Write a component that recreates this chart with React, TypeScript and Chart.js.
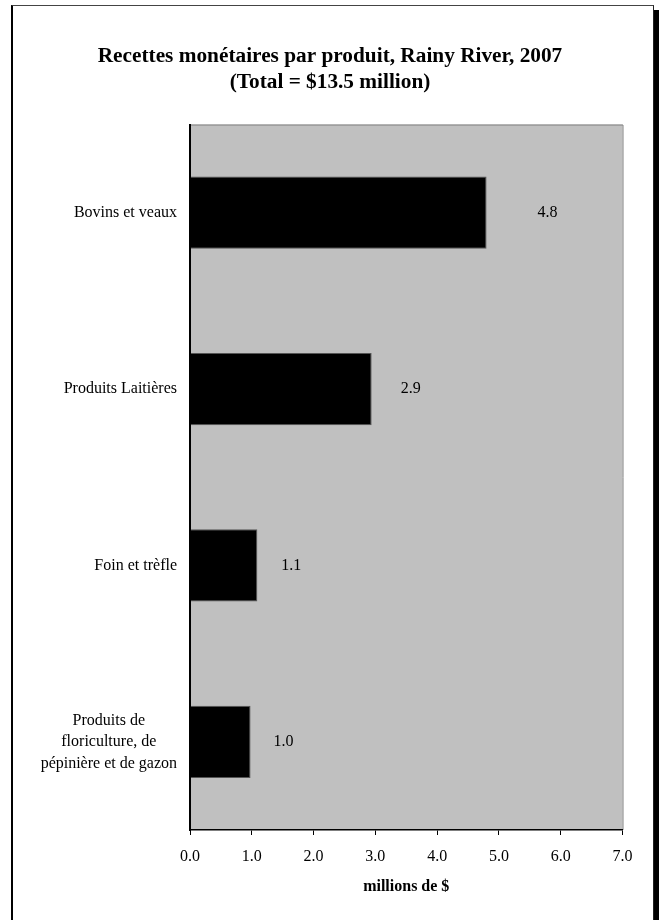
import React, { useEffect, useRef } from "react";
import { Chart, registerables } from "chart.js";

Chart.register(...registerables);

// ---- data ----
const categories: (string | string[])[] = [
  "Bovins et veaux",
  "Produits Laitières",
  "Foin et trèfle",
  ["Produits de", "floriculture, de", "pépinière et de gazon"],
];
const values: number[] = [4.8, 2.94, 1.09, 0.98];
const xTickValues: number[] = [0, 1, 2, 3, 4, 5, 6, 7];
const titleLines: string[] = [
  "Recettes monétaires par produit, Rainy River, 2007",
  "(Total = $13.5 million)",
];
const xAxisTitle = "millions de $";

// ---- styling ----
const FONT = "'Liberation Serif', 'Times New Roman', Times, serif";
const labelOffsets: number[] = [61, 39, 34, 33];

const plotBackground = {
  id: "plotBackground",
  beforeDraw(chart: any) {
    const { ctx, chartArea } = chart;
    if (!chartArea) return;
    const { left, top, right, bottom } = chartArea;
    ctx.save();
    ctx.fillStyle = "#C0C0C0";
    ctx.fillRect(left, top, right - left, bottom - top);
    ctx.strokeStyle = "#808080";
    ctx.lineWidth = 1;
    ctx.beginPath();
    ctx.moveTo(left, top + 0.5);
    ctx.lineTo(right + 0.5, top + 0.5);
    ctx.lineTo(right + 0.5, bottom);
    ctx.stroke();
    ctx.restore();
  },
};

const valueLabels = {
  id: "valueLabels",
  afterDatasetsDraw(chart: any) {
    const { ctx } = chart;
    const meta = chart.getDatasetMeta(0);
    ctx.save();
    ctx.font = `16px ${FONT}`;
    ctx.fillStyle = "#000";
    ctx.textAlign = "center";
    ctx.textBaseline = "middle";
    meta.data.forEach((el: any, i: number) => {
      const v = values[i];
      ctx.fillText(v.toFixed(1), el.x + labelOffsets[i], el.y);
    });
    ctx.restore();
  },
};

const categoryLabels = {
  id: "categoryLabels",
  afterDraw(chart: any) {
    const { ctx, chartArea } = chart;
    const yScale = chart.scales.y;
    const lineHeight = 21.5;
    ctx.save();
    ctx.font = `16px ${FONT}`;
    ctx.fillStyle = "#000";
    ctx.textAlign = "center";
    ctx.textBaseline = "middle";
    categories.forEach((cat, i) => {
      const lines = Array.isArray(cat) ? cat : [cat];
      const maxW = Math.max(...lines.map((l) => ctx.measureText(l).width));
      const rightX = chartArea.left - 13;
      const cx = rightX - maxW / 2;
      const cy = yScale.getPixelForValue(i);
      lines.forEach((line, j) => {
        ctx.fillText(line, cx, cy + (j - (lines.length - 1) / 2) * lineHeight);
      });
    });
    ctx.restore();
  },
};

function BarChart() {
  const canvasRef = useRef<HTMLCanvasElement | null>(null);

  useEffect(() => {
    if (!canvasRef.current) return;
    const chart = new Chart(canvasRef.current, {
      type: "bar",
      data: {
        labels: categories as any,
        datasets: [
          {
            data: values,
            backgroundColor: "#000000",
            borderColor: "#555555",
            borderWidth: 1,
            barPercentage: 0.41,
            categoryPercentage: 1,
          },
        ],
      },
      options: {
        indexAxis: "y",
        animation: false,
        responsive: true,
        maintainAspectRatio: false,
        layout: { padding: { left: 37.5, right: 36.5, top: 0, bottom: 0 } },
        plugins: {
          legend: { display: false },
          tooltip: { enabled: false },
          title: {
            display: true,
            text: titleLines,
            color: "#000",
            font: { family: FONT, size: 21.3, weight: "bold", lineHeight: 1.2 },
            padding: { top: 43.7, bottom: 29.7 },
          },
        },
        scales: {
          x: {
            type: "linear",
            position: "bottom",
            min: 0,
            max: 7,
            afterBuildTicks: (scale: any) => {
              scale.ticks = xTickValues.map((v) => ({ value: v }));
            },
            ticks: {
              color: "#000",
              font: { family: FONT, size: 16 },
              padding: 12,
              callback: (v: any) => Number(v).toFixed(1),
              maxRotation: 0,
            },
            grid: {
              display: true,
              drawOnChartArea: false,
              drawTicks: true,
              tickLength: 5,
              color: "#000",
              lineWidth: 1,
            },
            border: { display: true, color: "#000", width: 1.5, z: 1 },
            title: {
              display: true,
              text: xAxisTitle,
              color: "#000",
              font: { family: FONT, size: 16, weight: "bold", lineHeight: 1.2 },
              padding: { top: 0, bottom: 24 },
            },
            afterFit: (scale: any) => {
              scale.height = 90;
            },
          },
          y: {
            type: "category",
            grid: { display: false },
            ticks: { display: false },
            border: { display: true, color: "#000", width: 2, z: 1 },
            afterFit: (scale: any) => {
              scale.width = 152.5;
            },
          },
        },
      },
      plugins: [plotBackground, valueLabels, categoryLabels],
    });
    return () => chart.destroy();
  }, []);

  return (
    <div style={{ position: "fixed", left: 0, top: 0, width: 659, height: 920 }}>
      <canvas ref={canvasRef} />
    </div>
  );
}

export default function App() {
  return (
    <div style={{ position: "fixed", left: 0, top: 0, width: 659, height: 920, overflow: "hidden", background: "#fff" }}>
      <div
        style={{
          position: "absolute",
          left: 11,
          top: 5,
          width: 643,
          height: 1000,
          boxSizing: "border-box",
          background: "#fff",
          borderLeft: "2px solid #000",
          borderTop: "1px solid #444",
          borderRight: "1px solid #222",
          boxShadow: "5px 5px 0 #000",
        }}
      />
      <BarChart />
    </div>
  );
}
